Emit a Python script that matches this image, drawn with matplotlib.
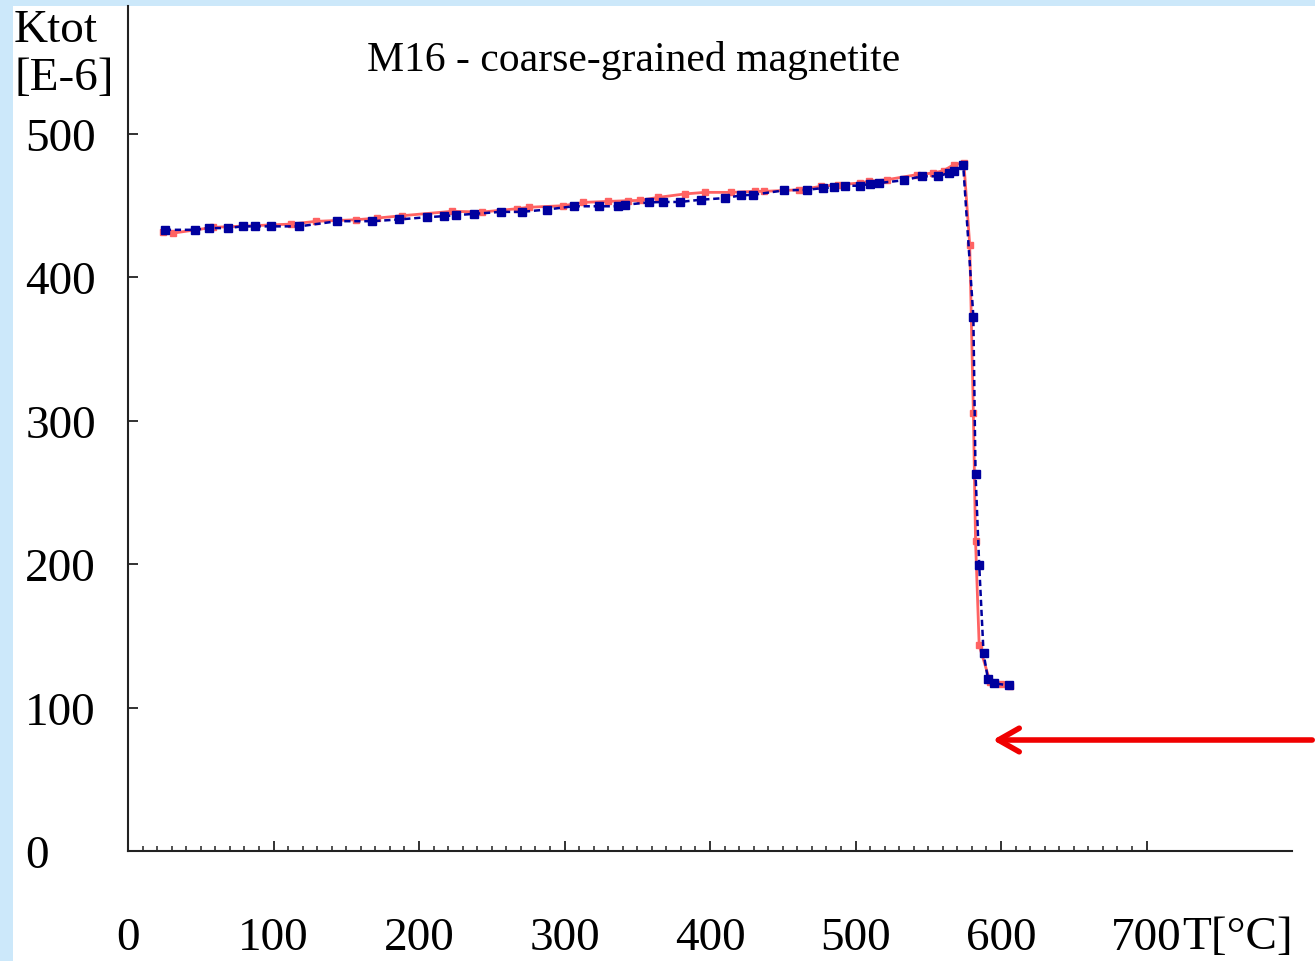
import numpy as np
import matplotlib
matplotlib.use('Agg')
import matplotlib.pyplot as plt
from matplotlib.ticker import FixedLocator

# datos (T en grados C, K en E-6)
T_azul = [25.3, 45.9, 55.5, 68.5, 78.8, 87, 98, 117.8, 143.8, 167.8, 186.3, 205.5,
          217.1, 225.3, 237.7, 256.2, 270.5, 287.7, 306.2, 324, 336.5, 341.9, 358.2,
          367.8, 379.2, 394, 410, 421.4, 429.5, 451, 467, 477.5, 485.5, 492.5, 503,
          510, 516, 533, 545.5, 557, 564, 567.5, 574,
          581, 582.5, 585, 588, 591, 595, 605.3]
K_azul = [433, 433, 434.2, 434.2, 435.4, 435.4, 435.4, 435.4, 439, 439, 440.2, 441.8,
          442.5, 443.2, 444.1, 445.5, 445.5, 447.1, 449.4, 449.4, 449.4, 450.5, 452.1,
          452.4, 452.4, 454, 455.1, 457, 457.4, 460.5, 460.9, 462.1, 462.6, 463.7, 463.7,
          465.1, 465.6, 467.5, 470.3, 470.3, 472.6, 474.2, 478.4,
          372.5, 263, 199.7, 138, 120, 117, 115.4]

T_rojo = [24.2, 31, 58.4, 112.1, 129.2, 156.6, 171.4, 188.2, 222.8, 243.4, 267.4,
          275.3, 299.3, 313, 330, 343.8, 351.8, 364.4, 382.7, 396.4, 414.6, 430.6,
          437.4, 461.5, 476.5, 488, 503, 509, 521.5, 542, 553.5, 560.5, 567.5,
          574.5, 578.5, 581, 582.5, 585, 592.5, 600, 606]
K_rojo = [431.4, 430.7, 434.7, 437, 438.9, 440, 441.2, 442.8, 445.9, 445.4, 447.7,
          448.7, 449.8, 452.1, 452.8, 453.3, 453.5, 455.6, 458, 459.1, 459.1, 459.8,
          459.8, 460.9, 463.3, 464.4, 465.6, 466.8, 467.9, 471.4, 472.6, 474.2, 478.4,
          479.6, 422.6, 305.5, 216, 143.3, 118, 116.6, 115]

xticks = [0, 100, 200, 300, 400, 500, 600, 700]
yticks = [0, 100, 200, 300, 400, 500]

plt.rcParams['font.family'] = ['Liberation Serif', 'DejaVu Serif']

fig = plt.figure(figsize=(13.15, 9.62), dpi=100)
fig.patch.set_facecolor('#CCE8FA')
# zona blanca
fig.patches.append(plt.Rectangle((13/1315, 0), 1, 1 - 7/962, transform=fig.transFigure,
                                 facecolor='white', edgecolor='none', zorder=-5))

ax = fig.add_axes([128/1315, 1 - 852/962, (1292-128)/1315, (852-7)/962])
ax.set_facecolor('none')
ax.plot(T_rojo, K_rojo, color='#FF6363', lw=2, marker='s', ms=4.5, mec='#FF6363')
ax.plot(T_azul, K_azul, color='#00009E', lw=1.8, ls=(0, (2.5, 1.5)), marker='s', ms=5.5)

ax.set_xlim(0, 800)
ax.set_ylim(0, 589)
for s in ['top', 'right']:
    ax.spines[s].set_visible(False)
for s in ['left', 'bottom']:
    ax.spines[s].set_linewidth(1.5)
    ax.spines[s].set_color('#222222')

ax.xaxis.set_major_locator(FixedLocator(xticks))
ax.xaxis.set_minor_locator(FixedLocator([t for t in range(10, 700, 10) if t % 100]))
ax.yaxis.set_major_locator(FixedLocator(yticks))
ax.tick_params(axis='x', which='major', direction='in', length=7, width=1.3, pad=47,
               labelsize=34, color='#222222')
ax.tick_params(axis='x', which='minor', direction='in', length=3.6, width=1.1, color='#222222')
ax.tick_params(axis='y', which='major', direction='in', length=7, width=1.3, pad=74,
               labelsize=34, color='#222222')
for lbl in ax.get_yticklabels():
    lbl.set_ha('left')

fig.text(14/1315, 1 - 9/962, 'Ktot\n[E-6]', ha='left', va='top', fontsize=34, linespacing=1.2)
fig.text(634/1315, 1 - 60/962, 'M16 - coarse-grained magnetite', ha='center', va='center', fontsize=30)
fig.text(1182/1315, 1 - 938/962, 'T[°C]', ha='left', va='center', fontsize=34)

ax.annotate('', xy=(990/1315, 1 - 741/962), xytext=(1.0, 1 - 741/962),
            xycoords='figure fraction', textcoords='figure fraction',
            arrowprops=dict(arrowstyle='->,head_length=1.5,head_width=0.85', color='#F00000', lw=4))

fig.savefig('out.png', dpi=100)
